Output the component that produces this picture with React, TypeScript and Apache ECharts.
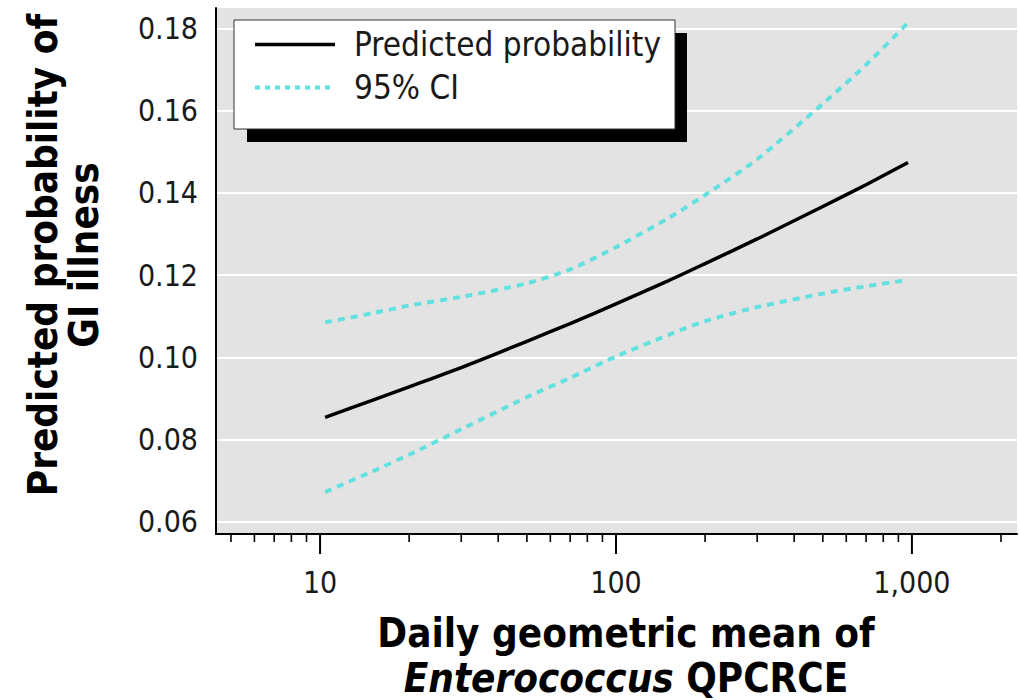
import React, { useEffect, useRef } from "react";
import * as echarts from "echarts";

const FONT = "'DejaVu Sans Condensed', 'Liberation Sans Narrow', 'Arial Narrow', 'Liberation Sans', sans-serif";

// x values: daily geometric mean of Enterococcus QPCRCE
const xValues = [10.4, 15, 20, 30, 50, 70, 100, 150, 200, 300, 500, 700, 970];
const predicted = [0.0854, 0.0895, 0.0928, 0.0975, 0.1039, 0.1082, 0.113, 0.1186, 0.1228, 0.1288, 0.1367, 0.142, 0.1474];
const upperCI = [0.1085, 0.1107, 0.1126, 0.1147, 0.118, 0.1214, 0.1268, 0.1338, 0.1395, 0.1482, 0.1617, 0.1712, 0.1814];
const lowerCI = [0.0672, 0.0722, 0.0763, 0.0825, 0.0903, 0.095, 0.1002, 0.1054, 0.1088, 0.1122, 0.1155, 0.1173, 0.1188];

const majorTicks = [10, 100, 1000];
const minorTicks = [5, 6, 7, 8, 9, 20, 30, 40, 50, 60, 70, 80, 90, 200, 300, 400, 500, 600, 700, 800, 900, 2000];

const X_MIN = 4.45;
const X_MAX = 2265;
const Y_MIN = 0.057;
const Y_MAX = 0.185;

const CI_COLOR = "#63e0e0";
const CI_DASH = [7, 6];

export default function App() {
  const ref = useRef<HTMLDivElement>(null);

  useEffect(() => {
    if (!ref.current) return;
    const chart = echarts.init(ref.current, null, { renderer: "svg" });
    const pair = (arr: number[]) => xValues.map((x, i) => [x, arr[i]]);
    const tickData = [
      ...majorTicks.map((v) => [v, 1]),
      ...minorTicks.map((v) => [v, 0]),
    ];

    chart.setOption({
      animation: false,
      backgroundColor: "#ffffff",
      grid: {
        left: 216,
        top: 8,
        right: 2,
        bottom: 166,
        outerBoundsMode: "none",
        containLabel: false,
        show: true,
        backgroundColor: "#e3e3e3",
        borderWidth: 0,
      },
      graphic: [
        {
          type: "rect",
          z: 3,
          shape: { x: 247, y: 33, width: 440, height: 109 },
          style: { fill: "#000000" },
        },
        {
          type: "rect",
          z: 3,
          shape: { x: 234, y: 20, width: 441, height: 109 },
          style: { fill: "#ffffff", stroke: "#333333", lineWidth: 1 },
        },
      ],
      legend: {
        data: [
          { name: "Predicted probability", lineStyle: { width: 3.5, color: "#000" } },
          { name: "95% CI", lineStyle: { width: 4, color: CI_COLOR, type: [5, 5] } },
        ],
        orient: "vertical",
        left: 234,
        top: 20,
        padding: [8, 10, 10, 19],
        itemWidth: 80,
        itemHeight: 38,
        itemGap: 10,
        z: 5,
        itemStyle: { color: "transparent", borderColor: "transparent", borderWidth: 0, opacity: 0 },
        textStyle: {
          fontFamily: FONT,
          fontSize: 33,
          color: "#1a1a1a",
          padding: [0, 0, 0, 14],
        },
      },
      xAxis: {
        type: "log",
        logBase: 10,
        min: X_MIN,
        max: X_MAX,
        name: "Daily geometric mean of\n{it|Enterococcus} QPCRCE",
        nameLocation: "middle",
        nameGap: 76,
        nameTextStyle: {
          fontFamily: FONT,
          fontSize: 40,
          fontWeight: "bold",
          color: "#000",
          lineHeight: 45,
          padding: [0, 0, 0, 19],
          rich: {
            it: {
              fontFamily: FONT,
              fontSize: 40,
              fontWeight: "bold",
              fontStyle: "italic",
              color: "#000",
              lineHeight: 45,
            },
          },
        },
        axisLine: { show: true, lineStyle: { color: "#000", width: 2 } },
        axisTick: { show: false },
        splitLine: { show: false },
        axisLabel: {
          showMinLabel: false,
          showMaxLabel: false,
          margin: 33,
          fontFamily: FONT,
          fontSize: 30,
          color: "#1a1a1a",
          formatter: (v: number) => Math.round(v).toLocaleString("en-US"),
        },
      },
      yAxis: {
        type: "value",
        min: Y_MIN,
        max: Y_MAX,
        splitNumber: 6,
        name: "Predicted probability of\nGI illness",
        nameLocation: "middle",
        nameRotate: 90,
        nameGap: 112,
        nameTextStyle: {
          fontFamily: FONT,
          fontSize: 40,
          fontWeight: "bold",
          color: "#000",
          lineHeight: 41,
          padding: [0, 0, 0, 32],
        },
        axisLine: { show: true, lineStyle: { color: "#000", width: 2 } },
        axisTick: { show: false },
        splitLine: {
          show: true,
          showMinLine: false,
          showMaxLine: false,
          lineStyle: { color: "#ffffff", width: 2 },
        },
        axisLabel: {
          showMinLabel: false,
          showMaxLabel: false,
          margin: 18,
          fontFamily: FONT,
          fontSize: 30,
          color: "#1a1a1a",
          formatter: (v: number) => v.toFixed(2),
        },
      },
      series: [
        {
          name: "95% CI",
          type: "line",
          data: pair(upperCI),
          smooth: 0.25,
          symbol: "none",
          z: 2,
          lineStyle: { color: CI_COLOR, width: 4, type: CI_DASH },
          itemStyle: { color: CI_COLOR },
        },
        {
          name: "95% CI",
          type: "line",
          data: pair(lowerCI),
          smooth: 0.25,
          symbol: "none",
          z: 2,
          lineStyle: { color: CI_COLOR, width: 4, type: CI_DASH },
          itemStyle: { color: CI_COLOR },
        },
        {
          name: "Predicted probability",
          type: "line",
          data: pair(predicted),
          smooth: 0.25,
          symbol: "none",
          z: 3,
          lineStyle: { color: "#000", width: 3.5 },
          itemStyle: { color: "#000" },
        },
        {
          name: "ticks",
          type: "custom",
          silent: true,
          clip: false,
          encode: { x: 0 },
          data: tickData,
          renderItem: (params: any, api: any) => {
            const v = api.value(0);
            const major = api.value(1);
            const p = api.coord([v, Y_MIN]);
            const len = major ? 20 : 8;
            return {
              type: "line",
              shape: { x1: p[0], y1: p[1], x2: p[0], y2: p[1] + len },
              style: { stroke: "#000", lineWidth: major ? 2 : 1.6 },
            };
          },
        },
      ],
    });

    return () => chart.dispose();
  }, []);

  return (
    <div
      ref={ref}
      style={{ position: "fixed", left: 0, top: 0, width: 1019, height: 700 }}
    />
  );
}
